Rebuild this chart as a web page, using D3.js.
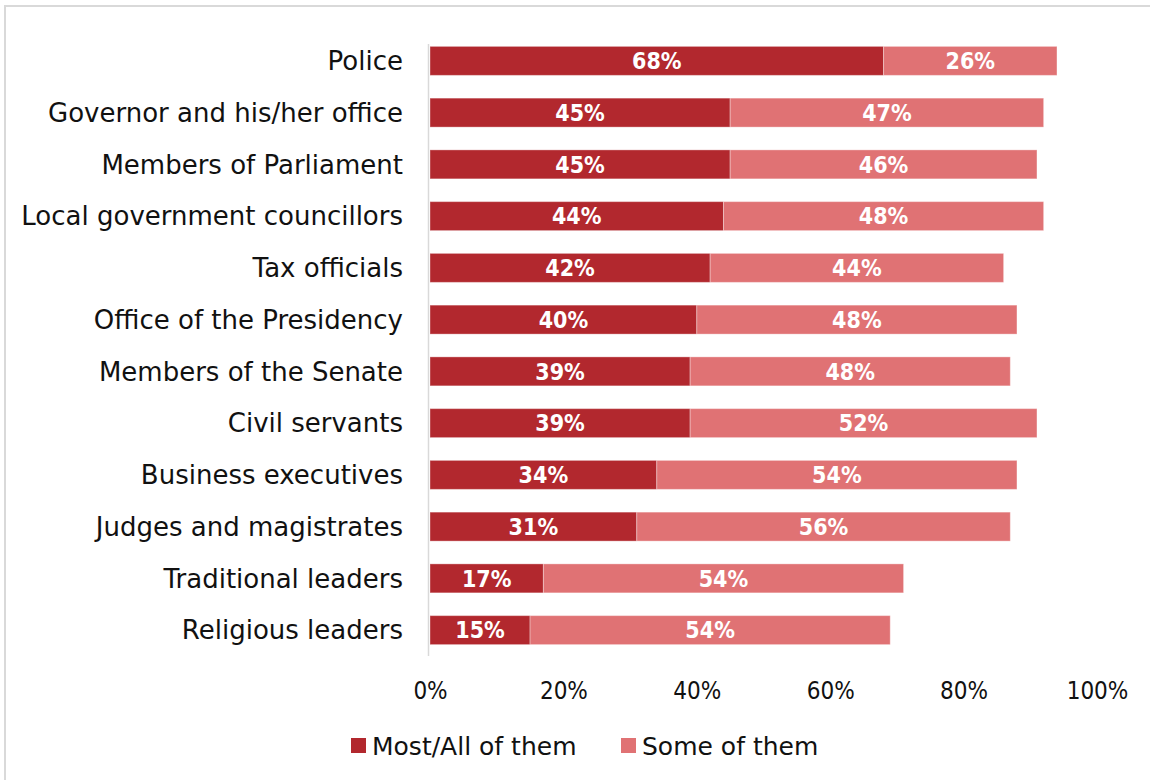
<!DOCTYPE html>
<html>
<head>
<meta charset="utf-8">
<script src="https://cdn.jsdelivr.net/npm/d3@7"></script>
<style>
  html, body { margin: 0; padding: 0; background: #fff; }
  svg { display: block; }
</style>
</head>
<body>
<svg id="chart" width="1150" height="780"></svg>
<script>
// Institutions, top to bottom
const categories = [
  "Police",
  "Governor and his/her office",
  "Members of Parliament",
  "Local government councillors",
  "Tax officials",
  "Office of the Presidency",
  "Members of the Senate",
  "Civil servants",
  "Business executives",
  "Judges and magistrates",
  "Traditional leaders",
  "Religious leaders"
];
// Share saying "Most/All of them" are involved (%)
const mostAll = [68, 45, 45, 44, 42, 40, 39, 39, 34, 31, 17, 15];
// Share saying "Some of them" are involved (%)
const some = [26, 47, 46, 48, 44, 48, 48, 52, 54, 56, 54, 54];
const seriesNames = ["Most/All of them", "Some of them"];
const seriesColors = ["#B2282E", "#E07274"];
const tickValues = [0, 20, 40, 60, 80, 100];

const svg = d3.select("#chart");
const W = 1150, H = 780;

// Outer frame
svg.append("rect")
  .attr("x", 5).attr("y", 6)
  .attr("width", W + 10).attr("height", H + 10)
  .attr("fill", "#fff")
  .attr("stroke", "#d9d9d9")
  .attr("stroke-width", 2);

const plot = { left: 430, right: 1097, top: 35, bottom: 656 };

const x = d3.scaleLinear().domain([0, 100]).range([plot.left, plot.right]);
const y = d3.scaleBand().domain(categories)
  .range([plot.top, plot.bottom]).paddingInner(0.44).paddingOuter(0.22);

const rows = categories.map((c, i) => ({ cat: c, a: mostAll[i], b: some[i] }));
const stack = d3.stack().keys(["a", "b"])(rows);

const labelFont = "'DejaVu Sans', Lato, sans-serif";
const condensedFont = "'DejaVu Sans Condensed', 'DejaVu Sans', sans-serif";

// Bars
const layers = svg.append("g").selectAll("g")
  .data(stack).join("g")
  .attr("fill", (d, i) => seriesColors[i]);

layers.selectAll("rect")
  .data(d => d)
  .join("rect")
  .attr("x", d => x(d[0]))
  .attr("y", d => y(d.data.cat))
  .attr("width", d => x(d[1]) - x(d[0]))
  .attr("height", y.bandwidth())
  .attr("stroke", "#ffffff")
  .attr("stroke-opacity", 0.35)
  .attr("stroke-width", 1);

// Value labels centred in each segment
layers.selectAll("text")
  .data(d => d)
  .join("text")
  .attr("x", d => (x(d[0]) + x(d[1])) / 2)
  .attr("y", d => y(d.data.cat) + y.bandwidth() / 2)
  .attr("dy", "0.36em")
  .attr("text-anchor", "middle")
  .attr("fill", "#fff")
  .attr("font-family", condensedFont)
  .attr("font-weight", "bold")
  .attr("font-size", 23)
  .text(d => (d[1] - d[0]) + "%");

// Category axis line
svg.append("line")
  .attr("x1", plot.left - 1.5).attr("x2", plot.left - 1.5)
  .attr("y1", 44).attr("y2", 656)
  .attr("stroke", "#d9d9d9").attr("stroke-width", 1.5);

// Category labels
svg.append("g").selectAll("text")
  .data(categories).join("text")
  .attr("x", 403)
  .attr("y", d => y(d) + y.bandwidth() / 2)
  .attr("dy", "0.36em")
  .attr("text-anchor", "end")
  .attr("fill", "#111")
  .attr("font-family", labelFont)
  .attr("font-size", 26)
  .text(d => d);

// Percentage axis
const xAxis = d3.axisBottom(x).tickValues(tickValues)
  .tickFormat(d => d + "%").tickSize(0).tickPadding(0);
const gx = svg.append("g").attr("transform", "translate(0,690)").call(xAxis);
gx.select(".domain").remove();
gx.selectAll("text")
  .attr("dy", "0.36em")
  .attr("y", 0)
  .attr("fill", "#111")
  .attr("font-family", condensedFont)
  .attr("font-size", 24);

// Legend
const legend = svg.append("g").attr("transform", "translate(351,746)");
const legX = [0, 270];
seriesNames.forEach((name, i) => {
  const g = legend.append("g").attr("transform", `translate(${legX[i]},0)`);
  g.append("rect").attr("x", 0).attr("y", -8).attr("width", 15).attr("height", 15)
    .attr("fill", seriesColors[i]);
  g.append("text").attr("x", 21).attr("y", 0).attr("dy", "0.36em")
    .attr("fill", "#111")
    .attr("font-family", labelFont)
    .attr("font-size", 25)
    .text(name);
});
</script>
</body>
</html>
